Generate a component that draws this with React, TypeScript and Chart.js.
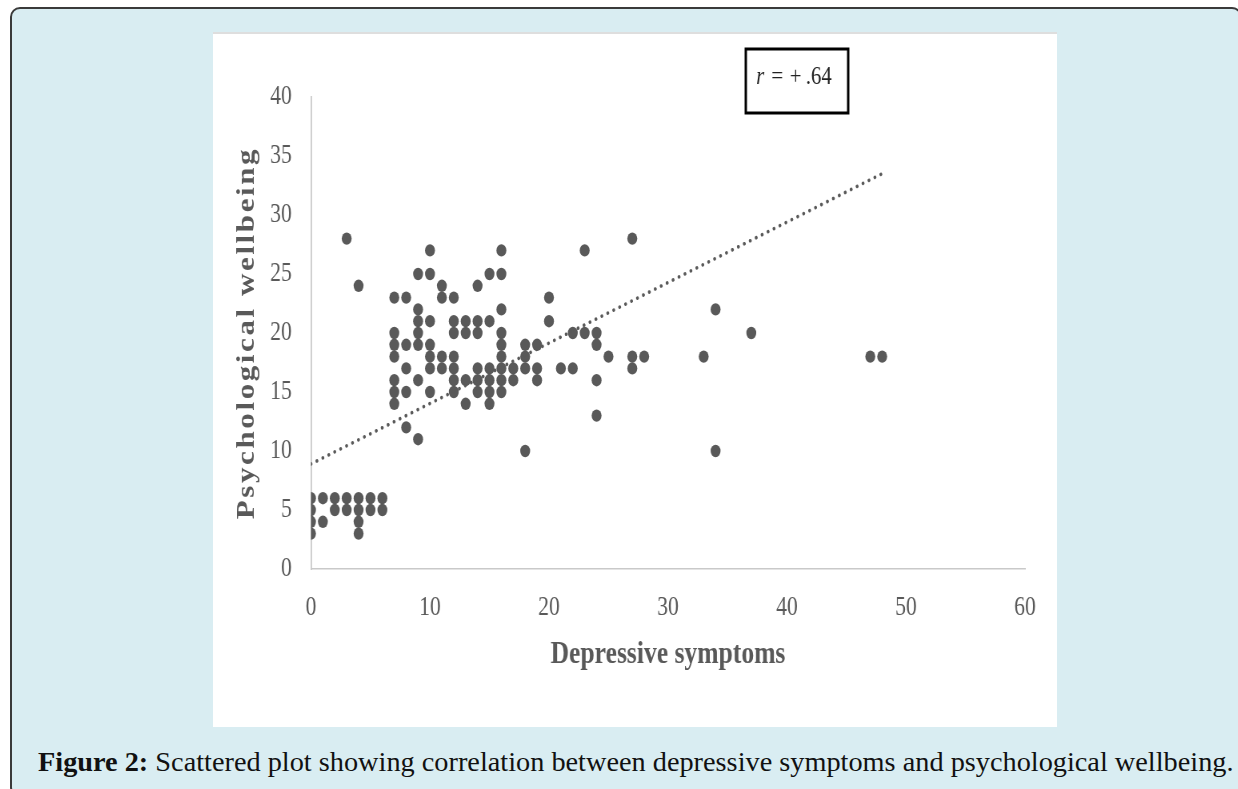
import React, { useEffect, useRef } from "react";
import { Chart, registerables } from "chart.js";

Chart.register(...registerables);

// ---- data ----
const pointsX = [
  0, 0, 0, 0,
  1, 1,
  2, 2,
  3, 3, 3,
  4, 4, 4, 4, 4,
  5, 5,
  6, 6,
  7, 7, 7, 7, 7, 7, 7,
  8, 8, 8, 8, 8,
  9, 9, 9, 9, 9, 9, 9,
  10, 10, 10, 10, 10, 10, 10,
  11, 11, 11, 11,
  12, 12, 12, 12, 12, 12, 12,
  13, 13, 13, 13,
  14, 14, 14, 14, 14, 14,
  15, 15, 15, 15, 15, 15,
  16, 16, 16, 16, 16, 16, 16, 16, 16,
  17, 17,
  18, 18, 18, 18,
  19, 19, 19,
  20, 20,
  21,
  22, 22,
  23, 23,
  24, 24, 24, 24,
  25,
  27, 27, 27,
  28,
  33,
  34, 34,
  37,
  47,
  48,
];
const pointsY = [
  6, 5, 4, 3,
  6, 4,
  6, 5,
  28, 6, 5,
  24, 6, 5, 4, 3,
  6, 5,
  6, 5,
  23, 20, 19, 18, 16, 15, 14,
  23, 19, 17, 15, 12,
  25, 22, 21, 20, 19, 16, 11,
  27, 25, 21, 19, 18, 17, 15,
  24, 23, 18, 17,
  23, 21, 20, 18, 17, 16, 15,
  21, 20, 16, 14,
  24, 21, 20, 17, 16, 15,
  25, 21, 17, 16, 15, 14,
  27, 25, 22, 20, 19, 18, 17, 16, 15,
  17, 16,
  19, 18, 17, 10,
  19, 17, 16,
  23, 21,
  17,
  20, 17,
  27, 20,
  20, 19, 16, 13,
  18,
  28, 18, 17,
  18,
  18,
  22, 10,
  20,
  18,
  18,
];
const trendX = [0, 48];
const trendY = [8.9, 33.5];
const xTicks = [0, 10, 20, 30, 40, 50, 60];
const yTicks = [0, 5, 10, 15, 20, 25, 30, 35, 40];
const xTitle = "Depressive symptoms";
const yTitle = "Psychological wellbeing";
const rItalic = "r";
const rRest = ["=", "+", ".64"];
const captionBold = "Figure 2:";
const captionText =
  " Scattered plot showing correlation between depressive symptoms and psychological wellbeing.";

const GRAY = "#595959";
const SERIF = "'Liberation Serif', 'Times New Roman', serif";

const annotPlugin = {
  id: "annot",
  afterDraw(chart: any) {
    const ctx = chart.ctx as CanvasRenderingContext2D;
    const area = chart.chartArea;
    // y axis title (letter spaced)
    ctx.save();
    ctx.translate(51, (area.top + area.bottom) / 2);
    ctx.rotate(-Math.PI / 2);
    (ctx as any).letterSpacing = "2.6px";
    ctx.font = `bold 31px ${SERIF}`;
    ctx.fillStyle = GRAY;
    ctx.textAlign = "center";
    ctx.textBaseline = "alphabetic";
    ctx.fillText(yTitle, 0, 0);
    ctx.restore();

    // r box
    ctx.save();
    ctx.strokeStyle = "#000";
    ctx.lineWidth = 3;
    ctx.strokeRect(666, 17, 128, 64);
    ctx.fillStyle = "#222";
    ctx.textBaseline = "alphabetic";
    ctx.textAlign = "left";
    ctx.font = `italic 26px ${SERIF}`;
    ctx.fillText(rItalic, 679, 52);
    ctx.font = `26px ${SERIF}`;
    const xs = [698, 721, 741];
    rRest.forEach((t, i) => ctx.fillText(t, xs[i], 52));
    ctx.restore();
  },
};

function ScatterChart() {
  const ref = useRef<HTMLCanvasElement | null>(null);
  useEffect(() => {
    if (!ref.current) return;
    const tickFont = { family: SERIF, size: 27 };
    const chart = new Chart(ref.current, {
      type: "scatter",
      data: {
        datasets: [
          {
            label: "points",
            data: pointsX.map((x, i) => ({ x, y: pointsY[i] })),
            backgroundColor: GRAY,
            borderWidth: 0,
            pointRadius: 6.2,
            pointHoverRadius: 6.2,
            order: 2,
          },
          {
            label: "trend",
            type: "line",
            data: trendX.map((x, i) => ({ x, y: trendY[i] })),
            borderColor: GRAY,
            borderWidth: 3.6,
            borderDash: [0.01, 8],
            borderCapStyle: "round",
            pointRadius: 0,
            fill: false,
            order: 1,
          } as any,
        ],
      },
      options: {
        responsive: false,
        animation: false,
        events: [],
        layout: { padding: { left: 0, top: 65, right: 40, bottom: 0 } },
        plugins: {
          legend: { display: false },
          tooltip: { enabled: false },
        },
        scales: {
          x: {
            type: "linear",
            min: 0,
            max: 60,
            afterBuildTicks: (s: any) => {
              s.ticks = xTicks.map((v) => ({ value: v }));
            },
            afterFit: (s: any) => {
              s.height = 158;
            },
            grid: { display: false, drawTicks: false },
            border: { display: true, color: "#c9c9c9", width: 1.5 },
            ticks: { font: tickFont, color: GRAY, padding: 23 },
            title: {
              display: true,
              text: xTitle,
              color: GRAY,
              font: { family: SERIF, size: 32, weight: "bold" },
              padding: { top: 0, bottom: 53 },
            },
          },
          y: {
            type: "linear",
            min: 0,
            max: 40,
            afterBuildTicks: (s: any) => {
              s.ticks = yTicks.map((v) => ({ value: v }));
            },
            afterFit: (s: any) => {
              s.width = 122.5;
            },
            grid: { display: false, drawTicks: false },
            border: { display: true, color: "#c9c9c9", width: 1.8 },
            ticks: { font: tickFont, color: GRAY, padding: 24 },
          },
        },
      },
      plugins: [annotPlugin],
    });
    return () => chart.destroy();
  }, []);
  return (
    <canvas
      ref={ref}
      width={1055}
      height={695}
      style={{ width: "844px", height: "695px", display: "block" }}
    />
  );
}

export default function App() {
  useEffect(() => {
    document.body.style.overflow = "hidden";
  }, []);
  return (
    <div style={{ position: "absolute", left: 0, top: 0, width: 1238, height: 789, overflow: "hidden" }}>
      <div
        style={{
          position: "absolute",
          left: 10,
          top: 7,
          width: 1232,
          height: 790,
          boxSizing: "border-box",
          background: "#d9edf2",
          border: "2px solid #3a3a3a",
          borderRadius: 10,
        }}
      />
      <div
        style={{
          position: "absolute",
          left: 213,
          top: 32,
          width: 844,
          height: 695,
          background: "#fff",
          borderTop: "2px solid #dedede",
          boxSizing: "border-box",
          overflow: "hidden",
        }}
      >
        <div style={{ position: "absolute", left: 0, top: -2 }}>
          <ScatterChart />
        </div>
      </div>
      <div
        style={{
          position: "absolute",
          left: 38,
          top: 744,
          whiteSpace: "nowrap",
          fontFamily: SERIF,
          fontSize: 28.3,
          lineHeight: "36px",
          color: "#111",
        }}
      >
        <b>{captionBold}</b>
        <span>{captionText}</span>
      </div>
    </div>
  );
}
